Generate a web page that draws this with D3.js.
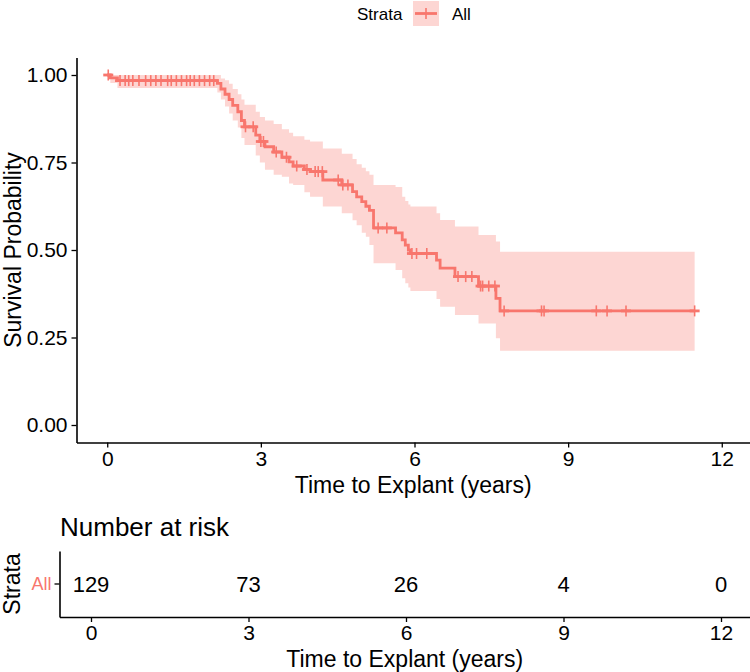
<!DOCTYPE html>
<html><head><meta charset="utf-8">
<script src="https://cdn.jsdelivr.net/npm/d3@7"></script>
<style>body{margin:0;background:#fff}svg{display:block}text{font-family:"Liberation Sans",Arial,Helvetica,sans-serif}</style>
</head><body>
<svg id="c" width="750" height="672"></svg>
<script>
// Kaplan-Meier steps (time, survival, lower CI, upper CI)
const eventTimes = [0, 0.06, 0.2, 2.15, 2.22, 2.3, 2.38, 2.45, 2.55, 2.62, 2.68, 2.9, 2.98, 3.08, 3.25, 3.41, 3.55, 3.63, 3.85, 3.96, 4.21, 4.58, 4.79, 4.87, 4.97, 5.05, 5.12, 5.2, 5.63, 5.76, 5.82, 5.88, 5.92, 6.43, 6.5, 6.79, 7.25, 7.59, 7.67];
const survival   = [1, 0.992, 0.984, 0.976, 0.960, 0.945, 0.93, 0.913, 0.895, 0.87, 0.852, 0.828, 0.81, 0.795, 0.78, 0.765, 0.752, 0.74, 0.73, 0.724, 0.70, 0.686, 0.667, 0.652, 0.638, 0.625, 0.613, 0.563, 0.549, 0.529, 0.514, 0.50, 0.49, 0.471, 0.448, 0.424, 0.397, 0.362, 0.326];
const lowerCI    = [1, 0.977, 0.963, 0.95, 0.93, 0.91, 0.89, 0.87, 0.85, 0.82, 0.80, 0.77, 0.75, 0.729, 0.715, 0.709, 0.69, 0.686, 0.665, 0.652, 0.624, 0.605, 0.585, 0.571, 0.549, 0.538, 0.514, 0.462, 0.443, 0.419, 0.405, 0.393, 0.383, 0.36, 0.338, 0.314, 0.29, 0.248, 0.212];
const upperCI    = [1, 1, 1, 1, 0.99, 0.985, 0.975, 0.96, 0.945, 0.93, 0.915, 0.895, 0.88, 0.87, 0.86, 0.845, 0.835, 0.825, 0.815, 0.81, 0.79, 0.775, 0.76, 0.745, 0.735, 0.725, 0.715, 0.686, 0.68, 0.652, 0.64, 0.63, 0.624, 0.605, 0.586, 0.567, 0.543, 0.524, 0.495];
const lastTime = 11.47;
const censorTimes = [0.02, 0.25, 0.35, 0.42, 0.5, 0.62, 0.75, 0.85, 0.95, 1.05, 1.18, 1.25, 1.35, 1.45, 1.55, 1.62, 1.7, 1.8, 1.9, 2.0, 2.08, 2.7, 2.85, 3.0, 3.05, 3.3, 3.5, 3.7, 3.9, 4.06, 4.12, 4.2, 4.51, 4.6, 4.7, 5.29, 5.46, 5.95, 6.04, 6.24, 6.85, 7.0, 7.12, 7.29, 7.33, 7.45, 7.57, 7.75, 8.48, 8.53, 9.55, 9.76, 10.13, 11.47];
const xTicks = [0, 3, 6, 9, 12];
const yTicks = [0, 0.25, 0.5, 0.75, 1];
const yTickLabels = ["0.00", "0.25", "0.50", "0.75", "1.00"];
const riskTimes = [0, 3, 6, 9, 12];
const riskCounts = [129, 73, 26, 4, 0];
const strata = ["All"];

const col = "#F8766D";
const svg = d3.select("#c");
const font = '"Liberation Sans",Arial,Helvetica,sans-serif';

// ---- main panel ----
const M = {left: 76.5, right: 752.5, top: 57.5, bottom: 442.5};
const x = d3.scaleLinear().domain([-0.6, 12.6]).range([M.left, M.right]);
const y = d3.scaleLinear().domain([-0.05, 1.05]).range([M.bottom, M.top]);

const steps = eventTimes.map((t, i) => ({t, s: survival[i], lo: lowerCI[i], hi: upperCI[i]}));
steps.push({t: lastTime, s: survival[survival.length-1], lo: lowerCI[lowerCI.length-1], hi: upperCI[upperCI.length-1]});

svg.append("path").datum(steps)
  .attr("d", d3.area().curve(d3.curveStepAfter).x(d => x(d.t)).y0(d => y(d.lo)).y1(d => y(d.hi)))
  .attr("fill", col).attr("fill-opacity", 0.3);
svg.append("path").datum(steps)
  .attr("d", d3.line().curve(d3.curveStepAfter).x(d => x(d.t)).y(d => y(d.s)))
  .attr("fill", "none").attr("stroke", col).attr("stroke-width", 2.8);

function survAt(t) { let s = 1; for (let i = 0; i < eventTimes.length; i++) if (eventTimes[i] <= t) s = survival[i]; return s; }
const cg = svg.append("g").attr("stroke", col).attr("stroke-width", 1.6);
censorTimes.forEach(t => {
  const cx = x(t), cy = y(survAt(t));
  cg.append("line").attr("x1", cx).attr("x2", cx).attr("y1", cy - 5.5).attr("y2", cy + 5.5);
  cg.append("line").attr("x1", cx - 5).attr("x2", cx + 5).attr("y1", cy).attr("y2", cy).attr("stroke-width", 2.8);
});

const xAxis = svg.append("g").attr("transform", `translate(0,${M.bottom})`)
  .call(d3.axisBottom(x).tickValues(xTicks).tickSize(5).tickPadding(4).tickSizeOuter(0));
const yAxis = svg.append("g").attr("transform", `translate(${M.left},0)`)
  .call(d3.axisLeft(y).tickValues(yTicks).tickFormat((d, i) => yTickLabels[i]).tickSize(5).tickPadding(4).tickSizeOuter(0));
[xAxis, yAxis].forEach(a => {
  a.select(".domain").attr("stroke", "#000").attr("stroke-width", 1.6);
  a.selectAll(".tick line").attr("stroke", "#000").attr("stroke-width", 1.3);
  a.selectAll(".tick text").attr("fill", "#000").style("font-size", "21px").style("font-family", font);
});
svg.append("text").attr("x", (M.left + 750) / 2).attr("y", 493).attr("text-anchor", "middle")
  .style("font-size", "23px").text("Time to Explant (years)");
svg.append("text").attr("transform", `translate(21,${(M.top + M.bottom) / 2}) rotate(-90)`).attr("text-anchor", "middle")
  .style("font-size", "23px").text("Survival Probability");

// ---- legend ----
const lg = svg.append("g");
lg.append("text").attr("x", 357).attr("y", 20).style("font-size", "17px").text("Strata");
lg.append("rect").attr("x", 413).attr("y", 1).attr("width", 26).attr("height", 25).attr("fill", col).attr("fill-opacity", 0.3);
lg.append("line").attr("x1", 415).attr("x2", 437).attr("y1", 13.5).attr("y2", 13.5).attr("stroke", col).attr("stroke-width", 2.8);
lg.append("line").attr("x1", 426).attr("x2", 426).attr("y1", 8).attr("y2", 19).attr("stroke", col).attr("stroke-width", 1.6);
lg.append("text").attr("x", 452).attr("y", 20).style("font-size", "17px").text(strata[0]);

// ---- risk table ----
svg.append("text").attr("x", 60).attr("y", 536).style("font-size", "26px").text("Number at risk");
const T = {left: 59.5, right: 752.5, top: 551, bottom: 617};
const xt = d3.scaleLinear().domain([-0.6, 12.6]).range([T.left, T.right]);
const yt = d3.scaleBand().domain(strata).range([T.bottom, T.top]);
const txAxis = svg.append("g").attr("transform", `translate(0,${T.bottom})`)
  .call(d3.axisBottom(xt).tickValues(xTicks).tickSize(5).tickPadding(3).tickSizeOuter(0));
const tyAxis = svg.append("g").attr("transform", `translate(${T.left},0)`)
  .call(d3.axisLeft(yt).tickSize(5).tickPadding(3).tickSizeOuter(0));
[txAxis, tyAxis].forEach(a => {
  a.select(".domain").attr("stroke", "#000").attr("stroke-width", 1.6);
  a.selectAll(".tick line").attr("stroke", "#000").attr("stroke-width", 1.3);
  a.selectAll(".tick text").attr("fill", "#000").style("font-size", "21px").style("font-family", font);
});
tyAxis.selectAll(".tick text").attr("fill", col).style("font-size", "18px");
svg.append("g").selectAll("text").data(riskTimes).join("text")
  .attr("x", d => xt(d)).attr("y", yt(strata[0]) + yt.bandwidth() / 2).attr("dy", "0.36em")
  .attr("text-anchor", "middle").style("font-size", "22px").text((d, i) => riskCounts[i]);
svg.append("text").attr("x", (T.left + 750) / 2).attr("y", 667).attr("text-anchor", "middle")
  .style("font-size", "23px").text("Time to Explant (years)");
svg.append("text").attr("transform", `translate(20,${(T.top + T.bottom) / 2}) rotate(-90)`).attr("text-anchor", "middle")
  .style("font-size", "23px").text("Strata");
</script>
</body></html>
